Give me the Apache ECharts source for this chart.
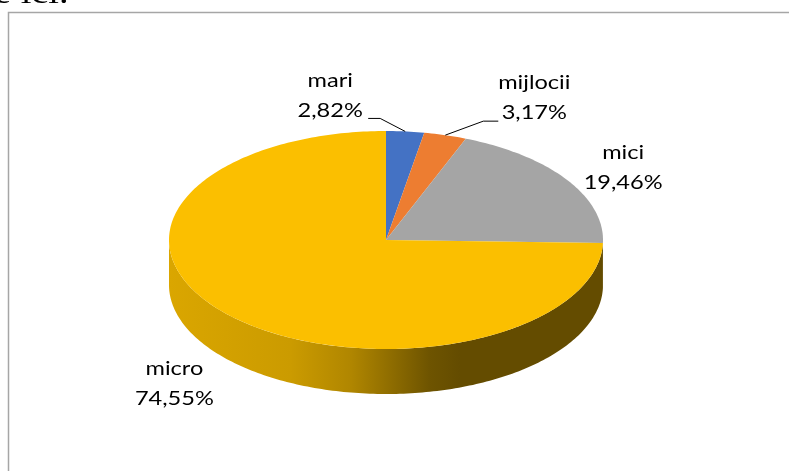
<!DOCTYPE html>
<html><head><meta charset="utf-8">
<script src="https://cdn.jsdelivr.net/npm/echarts@6/dist/echarts.min.js"></script>
<style>html,body{margin:0;padding:0;background:#fff;overflow:hidden}#c{width:789px;height:471px}</style>
</head><body><div id="c"></div>
<script>
// ---- data ----
const categories = ['mari', 'mijlocii', 'mici', 'micro'];
const shares = [2.82, 3.17, 19.46, 74.55];
const palette = ['#4472C4', '#ED7D31', '#A5A5A5', '#FBBF00'];

// ---- layout / style ----
const CX = 386, CY = 240, RX = 217, RY = 109, DEPTH = 45;
const TXT_SCALE = 1.18;
const FONT = '20px Lato';
// label offsets relative to the slice's outer edge point at its mid angle
const labelLayout = [
  { dx: -75, dy: -36, leader: [[-25, -13], [-37, -13]] },
  { dx: 89, dy: -38, leader: [[38, -14], [53, -14]] },
  { dx: 56, dy: -12, leader: null },
  { dx: -56, dy: 68, leader: null }
];
const sideShade = [[0, 0.87], [0.28, 0.81], [0.42, 0.70], [0.51, 0.57], [0.60, 0.44], [0.67, 0.40], [1, 0.40]];

function shade(hex, f) {
  const n = parseInt(hex.slice(1), 16);
  const r = Math.round(((n >> 16) & 255) * f), g = Math.round(((n >> 8) & 255) * f), b = Math.round((n & 255) * f);
  return 'rgb(' + r + ',' + g + ',' + b + ')';
}
const total = shares.reduce((a, b) => a + b, 0);
function startAngle(i) {
  let s = 0;
  for (let k = 0; k < i; k++) s += shares[k];
  return s / total * Math.PI * 2;
}
function P(t, dy) { return [CX + RX * Math.sin(t), CY - RY * Math.cos(t) + (dy || 0)]; }
function arc(a, b, dy) {
  const pts = [];
  const n = Math.max(2, Math.ceil(Math.abs(b - a) / (Math.PI / 180)));
  for (let k = 0; k <= n; k++) pts.push(P(a + (b - a) * k / n, dy));
  return pts;
}
function fmt(v) { return v.toFixed(2).replace('.', ',') + '%'; }

const seriesData = shares.map((v, i) => [i, v]);

const chart = echarts.init(document.getElementById('c'), null, { renderer: 'canvas' });
chart.setOption({
  animation: false,
  backgroundColor: '#fff',
  graphic: [
    { type: 'polyline', shape: { points: [[8.5, 480], [8.5, 12.5], [795, 12.5]] }, style: { fill: 'none', stroke: '#A6A6A6', lineWidth: 1.5 }, z: 0 },
    { type: 'text', x: -6, y: -5, scaleX: 1.2, style: { text: 'e ici.', font: '32px "Liberation Serif"', fill: '#000', verticalAlign: 'middle' }, z: 0 }
  ],
  series: [
    {
      type: 'custom', coordinateSystem: 'none', z: 1, data: seriesData,
      renderItem: function (params, api) {
        const i = api.value(0);
        const a0 = startAngle(i), a1 = a0 + api.value(1) / total * Math.PI * 2;
        const a = Math.max(a0, Math.PI / 2), b = Math.min(a1, Math.PI * 1.5);
        if (b <= a) return null;
        const pts = arc(a, b, 0).concat(arc(b, a, DEPTH));
        return {
          type: 'polygon', shape: { points: pts },
          style: {
            fill: {
              type: 'linear', x: CX - RX, y: 0, x2: CX + RX, y2: 0, global: true,
              colorStops: sideShade.map(s => ({ offset: s[0], color: shade(palette[i], s[1]) }))
            }
          }
        };
      }
    },
    {
      type: 'custom', coordinateSystem: 'none', z: 2, data: seriesData,
      renderItem: function (params, api) {
        const i = api.value(0);
        const a0 = startAngle(i), a1 = a0 + api.value(1) / total * Math.PI * 2;
        const pts = [[CX, CY]].concat(arc(a0, a1, 0));
        return { type: 'polygon', shape: { points: pts }, style: { fill: palette[i] } };
      }
    },
    {
      type: 'custom', coordinateSystem: 'none', z: 3, data: seriesData,
      renderItem: function (params, api) {
        const i = api.value(0);
        const a0 = startAngle(i), mid = a0 + api.value(1) / total * Math.PI;
        const e = P(mid, 0);
        const L = labelLayout[i];
        const lx = e[0] + L.dx, ly = e[1] + L.dy;
        const children = [
          { type: 'text', x: lx, y: ly - 15, scaleX: TXT_SCALE, style: { text: categories[i], font: FONT, fill: '#000', align: 'center', verticalAlign: 'middle' } },
          { type: 'text', x: lx, y: ly + 15, scaleX: TXT_SCALE, style: { text: fmt(api.value(1)), font: FONT, fill: '#000', align: 'center', verticalAlign: 'middle' } }
        ];
        if (L.leader) {
          const pts = [e].concat(L.leader.map(p => [e[0] + p[0], e[1] + p[1]]));
          children.push({ type: 'polyline', shape: { points: pts }, style: { stroke: '#000', lineWidth: 1, fill: 'none' } });
        }
        return { type: 'group', children: children };
      }
    }
  ]
});
</script></body></html>
